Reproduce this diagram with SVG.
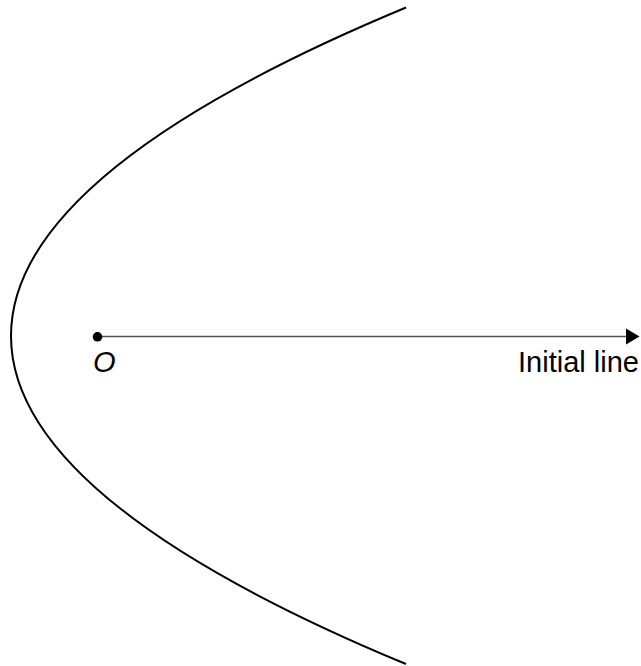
<svg xmlns="http://www.w3.org/2000/svg" width="641" height="666" viewBox="0 0 641 666">
<style>
.curve{fill:none;stroke:#000;stroke-width:2}
.axis{stroke:#555;stroke-width:1.5}
.lbl{font-family:"Liberation Sans",Arial,sans-serif;font-size:29px;fill:#000}
</style>
<rect width="641" height="666" fill="#fff"/>
<g id="curve">
<path class="curve" d="M406,7.5 Q-384,336 406,664"/>
</g>
<g id="connectors">
<line class="axis" x1="98" y1="336.5" x2="628" y2="336.5"/>
<polygon points="626,328.5 639.5,336.5 626,344.5" fill="#000"/>
</g>
<g id="origin">
<circle cx="97.5" cy="336.8" r="4.8" fill="#000"/>
<text class="lbl" x="93" y="372" font-style="italic">O</text>
</g>
<g id="initial-line">
<text class="lbl" x="518" y="372">Initial line</text>
</g>
</svg>
